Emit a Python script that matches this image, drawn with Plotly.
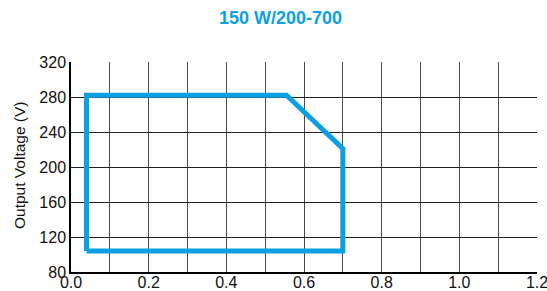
import plotly.graph_objects as go

# Operating area boundary (current A, voltage V)
current = [0.04, 0.04, 0.555, 0.70, 0.70, 0.04]
voltage = [104, 282, 282, 221, 104, 104]

x_ticks = [0.0, 0.2, 0.4, 0.6, 0.8, 1.0, 1.2]
y_ticks = [80, 120, 160, 200, 240, 280, 320]

title = "150 W/200-700"
y_title = "Output Voltage (V)"

blue = "#0aa0e2"
narrow = "Liberation Sans Narrow, Arial Narrow, sans-serif"
regular = "Liberation Sans, Arial, sans-serif"

L, R, T, B = 71, 10, 62, 19
W, H = 547, 291
pw = W - L - R
ph = H - T - B

fig = go.Figure()
fig.add_trace(go.Scatter(x=current, y=voltage, mode="lines",
                         line=dict(color=blue, width=5), showlegend=False,
                         hoverinfo="skip"))

fig.update_layout(
    width=W, height=H,
    margin=dict(l=L, r=R, t=T, b=B, autoexpand=False),
    paper_bgcolor="white", plot_bgcolor="white",
    font=dict(family=regular, size=16, color="#111"),
    title=dict(text="<b>" + title + "</b>", x=280.5 / W, xanchor="center",
               y=1 - 18 / H, yanchor="middle",
               font=dict(family=narrow, size=18, color=blue)),
    xaxis=dict(range=[0, 1.2], tickvals=x_ticks, tickformat=".1f",
               showgrid=True, gridcolor="#4a4a4a", gridwidth=1.2,
               minor=dict(dtick=0.1, showgrid=True, gridcolor="#4a4a4a", gridwidth=1.2),
               showline=True, linecolor="black", linewidth=1.5,
               ticks="", ticklen=0, zeroline=False, fixedrange=True,
               automargin=False, ticklabeloverflow="allow",
               ticklabelstandoff=-5,
               tickfont=dict(family=regular, size=16)),
    yaxis=dict(range=[80, 320], tickvals=y_ticks,
               showgrid=True, gridcolor="#222", gridwidth=1.2,
               showline=True, linecolor="black", linewidth=1.5,
               ticks="", zeroline=False, fixedrange=True,
               automargin=False, ticklabeloverflow="allow",
               tickfont=dict(family=regular, size=16)),
    annotations=[dict(text=y_title, xref="paper", yref="paper",
                      x=(19 - L) / pw, y=(272 - 165) / ph,
                      xanchor="center", yanchor="middle",
                      textangle=-90, showarrow=False,
                      font=dict(family=narrow, size=15.5, color="#111"))],
)

fig.write_html("out.html", config={"displayModeBar": False},
               post_script="document.body.style.margin='0';document.body.style.overflow='hidden';")
